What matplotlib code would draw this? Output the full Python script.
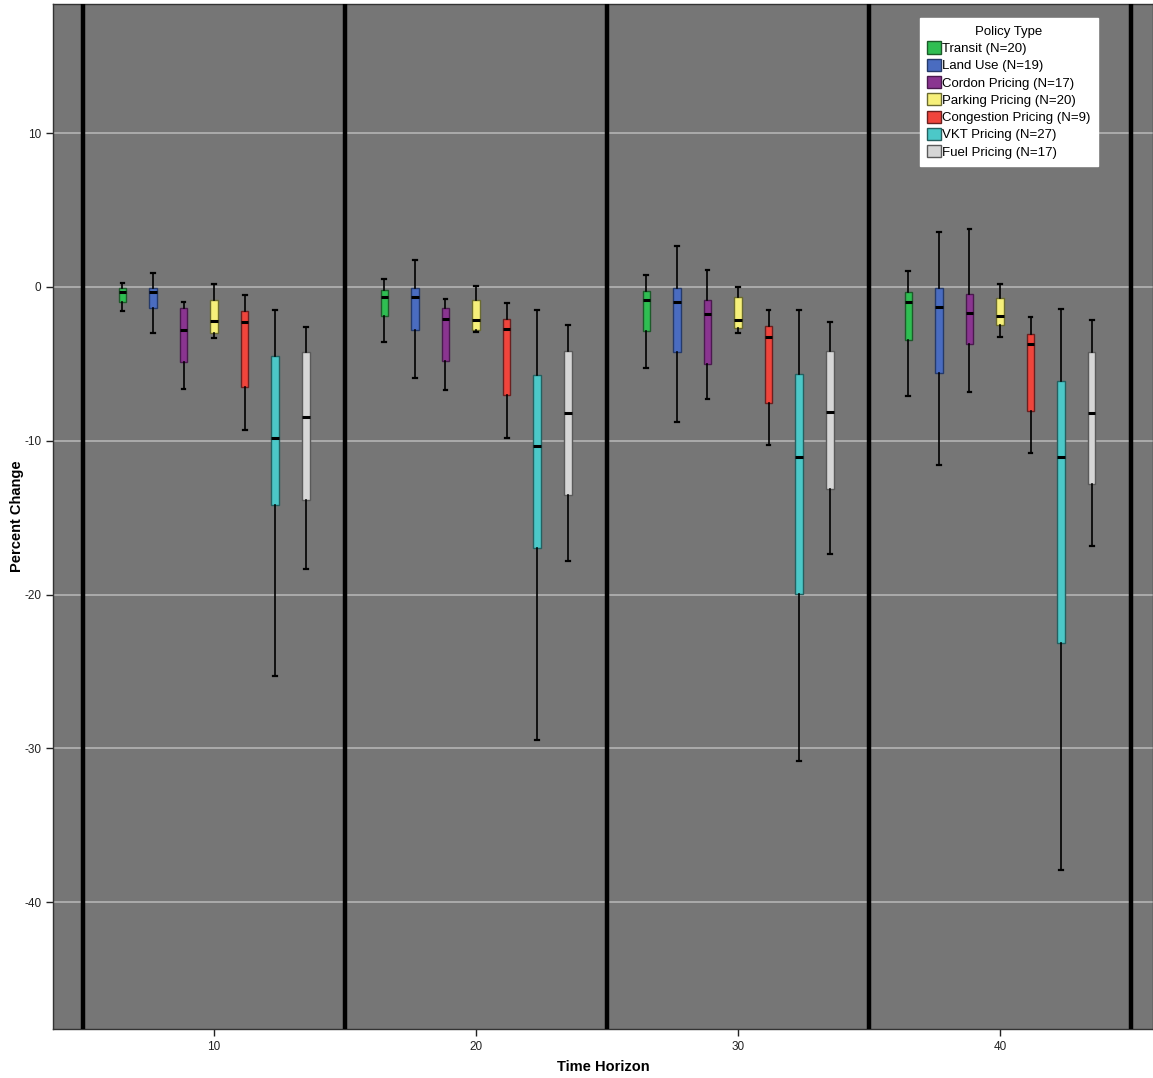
import matplotlib
matplotlib.use("Agg")
import matplotlib.pyplot as plt
from matplotlib.patches import Patch

plt.rcParams['font.family'] = ['Liberation Sans', 'DejaVu Sans']

horizons = [10, 20, 30, 40]
policies = ["Transit", "Land Use", "Cordon Pricing", "Parking Pricing",
            "Congestion Pricing", "VKT Pricing", "Fuel Pricing"]
counts = [20, 19, 17, 20, 9, 27, 17]
colors = ["#2fbe52", "#4a6cc0", "#8a3590", "#f6f07a", "#f0453c", "#4cc8c8", "#d6d6d6"]
edge_colors = ["#1d5a2a", "#253a6a", "#4a1a4e", "#6a6a30", "#6a2020", "#256060", "#5a5a5a"]

# rows: policies, columns: horizons 10/20/30/40
whisker_high = [
    [0.28, 0.52, 0.80, 1.02],
    [0.93, 1.77, 2.66, 3.55],
    [-0.95, -0.76, 1.12, 3.77],
    [0.19, 0.09, 0.02, 0.17],
    [-0.54, -1.02, -1.47, -1.93],
    [-1.47, -1.47, -1.47, -1.45],
    [-2.60, -2.47, -2.29, -2.14],
]
q3_values = [
    [-0.08, -0.17, -0.26, -0.35],
    [-0.04, -0.04, -0.09, -0.06],
    [-1.34, -1.38, -0.87, -0.48],
    [-0.87, -0.84, -0.67, -0.74],
    [-1.56, -2.06, -2.55, -3.05],
    [-4.50, -5.71, -5.67, -6.10],
    [-4.26, -4.16, -4.16, -4.22],
]
medians = [
    [-0.30, -0.63, -0.84, -0.95],
    [-0.30, -0.63, -0.95, -1.30],
    [-2.77, -2.08, -1.73, -1.69],
    [-2.19, -2.14, -2.14, -1.88],
    [-2.25, -2.75, -3.25, -3.74],
    [-9.80, -10.37, -11.06, -11.04],
    [-8.44, -8.20, -8.15, -8.18],
]
q1_values = [
    [-1.00, -1.90, -2.84, -3.48],
    [-1.38, -2.81, -4.22, -5.58],
    [-4.87, -4.81, -5.04, -3.74],
    [-2.97, -2.77, -2.66, -2.49],
    [-6.53, -7.03, -7.57, -8.07],
    [-14.16, -16.96, -19.97, -23.18],
    [-13.84, -13.50, -13.14, -12.80],
]
whisker_low = [
    [-1.54, -3.60, -5.30, -7.12],
    [-2.99, -5.93, -8.77, -11.56],
    [-6.64, -6.71, -7.30, -6.82],
    [-3.35, -2.92, -2.97, -3.25],
    [-9.30, -9.80, -10.30, -10.78],
    [-25.30, -29.43, -30.84, -37.93],
    [-18.35, -17.85, -17.35, -16.85],
]
y_ticks = [10, 0, -10, -20, -30, -40]
separators = [5, 15, 25, 35, 45]

fig = plt.figure(figsize=(11.53, 10.78), dpi=100)
ax = fig.add_axes([0.046, 0.0455, 0.954, 0.9508])
ax.set_facecolor("#767676")

step = 1.165
for i, pol in enumerate(policies):
    stats = []
    positions = []
    for j, h in enumerate(horizons):
        stats.append(dict(med=medians[i][j], q1=q1_values[i][j], q3=q3_values[i][j],
                          whislo=whisker_low[i][j], whishi=whisker_high[i][j], fliers=[]))
        positions.append(h + (i - 3) * step)
    ax.bxp(stats, positions=positions, widths=0.3, patch_artist=True, showfliers=False,
           manage_ticks=False,
           boxprops=dict(facecolor=colors[i], edgecolor=edge_colors[i], linewidth=1.0),
           medianprops=dict(color="black", linewidth=2.2),
           whiskerprops=dict(color="black", linewidth=1.2),
           capprops=dict(color="black", linewidth=1.6),
           capwidths=0.15, zorder=4)

for s in separators:
    ax.axvline(s, color="black", linewidth=3.2, zorder=3)

ax.set_xlim(3.855, 45.84)
ax.set_ylim(-48.25, 18.4)
ax.set_yticks(y_ticks)
ax.set_yticklabels([str(t) for t in y_ticks])
ax.set_xticks(horizons)
ax.set_xticklabels([str(h) for h in horizons])
ax.yaxis.grid(True, color="#b4b4b4", linewidth=1.2, zorder=1)
ax.set_axisbelow(True)
ax.tick_params(axis="both", direction="out", length=5, width=1, labelsize=8.5,
               colors="#222222")
for sp in ax.spines.values():
    sp.set_color("#333333")
    sp.set_linewidth(1.0)

ax.set_xlabel("Time Horizon", fontsize=10.5, fontweight="bold", va="center")
ax.xaxis.set_label_coords(0.5, -0.0375)
ax.set_ylabel("Percent Change", fontsize=10.5, fontweight="bold", va="center")
ax.yaxis.set_label_coords(-0.0325, 0.5)

handles = [Patch(facecolor=colors[i], edgecolor=edge_colors[i],
                 label=f"{policies[i]} (N={counts[i]})") for i in range(len(policies))]
leg = fig.legend(handles=handles, title="Policy Type", loc="upper right",
                 bbox_to_anchor=(0.952, 0.983), fontsize=9.5, title_fontsize=9.5,
                 frameon=True, fancybox=False, handlelength=1.05, handleheight=1.05,
                 handletextpad=0.1, labelspacing=0.28, borderpad=0.55,
                 borderaxespad=0.0)
leg.get_frame().set_facecolor("white")
leg.get_frame().set_edgecolor("white")
leg.get_frame().set_alpha(1.0)

fig.savefig("out.png", dpi=100)
